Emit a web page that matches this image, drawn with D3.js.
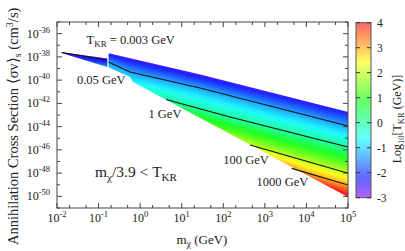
<!DOCTYPE html>
<html>
<head>
<meta charset="utf-8">
<script src="https://cdn.jsdelivr.net/npm/d3@7"></script>
<style>
  body { margin: 0; background: #fff; }
  text { font-family: "Liberation Serif", "Times New Roman", serif; fill: #222; }
</style>
</head>
<body>
<div id="chart"></div>
<script>
//////////////////////////////////////////////////////////////
////////////////////////// Data //////////////////////////////
//////////////////////////////////////////////////////////////

// all points are [log10 m (GeV), log10 sigma (cm^3/s), log10 T_KR]
var piece1Top    = [[-1.887, -37.60, -2.5], [-0.790, -38.14, -2.7]];
var piece1Bottom = [[-1.887, -37.67, -2.5], [-0.790, -38.87, -1.4]];

var piece2Top    = [[-0.761, -37.69, -2.4], [1.44, -39.52, -2.45], [5.0, -42.74, -2.3]];
var piece2Bottom = [[-0.761, -38.87, -1.15], [-0.725, -38.96, -1.1], [-0.244, -39.73, -0.85],
                    [-0.172, -40.16, -0.75], [5.0, -50.05, 4.4]];

// contour lines [log m, log sigma]
var contour003  = [[-1.887, -37.63], [-0.797, -38.27]];
var contour005  = [[-0.761, -38.44], [-0.244, -39.30], [1.44, -40.68], [5.0, -43.95]];
var contour1    = [[0.622, -41.67], [2.162, -43.17], [5.0, -45.75]];
var contour100  = [[2.643, -45.58], [4.88, -47.88], [5.0, -47.99]];
var contour1000 = [[3.646, -47.59], [5.0, -49.02]];
var contourValues = [-2.52, -1.3, 0, 2, 3];

var xTicks = [-2, -1, 0, 1, 2, 3, 4, 5];
var yTicks = [-50, -48, -46, -44, -42, -40, -38, -36];
var cbTicks = [-3, -2, -1, 0, 1, 2, 3, 4];

var labels = [
  {x: -1.29, y: -36.9, main: "T", sub: "KR", rest: " = 0.003 GeV"},
  {x: -1.52, y: -40.3, main: "0.05 GeV"},
  {x: 0.2, y: -43.3, main: "1 GeV"},
  {x: 2.0, y: -47.2, main: "100 GeV"},
  {x: 2.8, y: -49.1, main: "1000 GeV"}
];

//////////////////////////////////////////////////////////////
/////////////////////// Set up svg ///////////////////////////
//////////////////////////////////////////////////////////////

var width = 405, height = 251;
var svg = d3.select("#chart").append("svg")
    .attr("width", width)
    .attr("height", height);
var defs = svg.append("defs");

var x = d3.scaleLinear().domain([-2, 5]).range([57, 348]);
var y = d3.scaleLinear().domain([-35, -51]).range([22, 208]);

//log10 T -> colour (rainbow from violet to red)
var colorOf = function(v) {
  v = Math.max(-3, Math.min(4, v));
  return d3.hsl(270 * (4 - v) / 7, 1, 0.55).formatHex();
};

// value of a polyline at pixel px (linear in pixels)
function at(poly, px) {
  var pts = poly.map(function(p) { return [x(p[0]), y(p[1]), p[2]]; });
  if (px < pts[0][0] - 0.6 || px > pts[pts.length-1][0] + 0.6) return null;
  for (var i = 0; i < pts.length - 1; i++) {
    if (px <= pts[i+1][0] || i == pts.length - 2) {
      var t = (px - pts[i][0]) / (pts[i+1][0] - pts[i][0]);
      t = Math.max(0, Math.min(1, t));
      return [pts[i][1] + t * (pts[i+1][1] - pts[i][1]),
              pts[i][2] + t * (pts[i+1][2] - pts[i][2])];
    }
  }
}

//////////////////////////////////////////////////////////////
////////////////////// Colour field //////////////////////////
//////////////////////////////////////////////////////////////

var contours = [contour003, contour005, contour1, contour100, contour1000];
var pieces = [[piece1Top, piece1Bottom], [piece2Top, piece2Bottom]];

var field = svg.append("g");
var gid = 0;
pieces.forEach(function(pc, k) {
  var top = pc[0], bot = pc[1];
  var poly = top.concat(bot.slice().reverse()).map(function(p) { return [x(p[0]), y(p[1])]; });
  defs.append("clipPath").attr("id", "clip" + k)
    .append("polygon").attr("points", poly.join(" "));
  var g = field.append("g").attr("clip-path", "url(#clip" + k + ")");
  var x0 = x(top[0][0]), x1 = x(top[top.length-1][0]);
  for (var px = x0; px < x1; px += 2) {
    var cx = Math.min(px + 1, x1);
    var t = at(top, cx), b = at(bot, cx);
    var stops = [[t[0], t[1]]];
    contours.forEach(function(c, j) {
      var r = at(c, cx);
      if (r && r[0] > t[0] && r[0] < b[0]) stops.push([r[0], contourValues[j]]);
    });
    stops.push([b[0], b[1]]);
    stops.sort(function(a, b2) { return a[0] - b2[0]; });
    var fine = [];
    for (var i = 0; i < stops.length - 1; i++) {
      for (var s = 0; s < 5; s++) {
        var f = s / 5;
        fine.push([stops[i][0] + f * (stops[i+1][0] - stops[i][0]),
                   stops[i][1] + f * (stops[i+1][1] - stops[i][1])]);
      }
    }
    fine.push(stops[stops.length-1]);
    var id = "col" + (gid++);
    defs.append("linearGradient").attr("id", id)
      .attr("gradientUnits", "userSpaceOnUse")
      .attr("x1", 0).attr("x2", 0).attr("y1", t[0]).attr("y2", b[0])
      .selectAll("stop").data(fine).enter().append("stop")
      .attr("offset", function(d) { return (b[0] - t[0]) > 0 ? (d[0] - t[0]) / (b[0] - t[0]) : 0; })
      .attr("stop-color", function(d) { return colorOf(d[1]); });
    g.append("rect")
      .attr("x", px - 0.3).attr("width", 2.6)
      .attr("y", t[0] - 2).attr("height", b[0] - t[0] + 4)
      .style("fill", "url(#" + id + ")");
  }
});

//contour lines
var line = d3.line().x(function(d) { return x(d[0]); }).y(function(d) { return y(d[1]); });
svg.append("g").selectAll("path").data(contours).enter().append("path")
  .attr("d", line)
  .style("fill", "none").style("stroke", "#111").style("stroke-width", 1.1);

//////////////////////////////////////////////////////////////
////////////////////////// Axes //////////////////////////////
//////////////////////////////////////////////////////////////

var frame = svg.append("g").style("stroke", "#444").style("stroke-width", 1);
frame.append("rect").attr("x", 57).attr("y", 22).attr("width", 291).attr("height", 186)
  .style("fill", "none");

//x ticks, major and minor
var xMinor = [];
xTicks.forEach(function(t) {
  if (t < 5) [2, 5].forEach(function(m) { xMinor.push(t + Math.log10(m)); });
});
xTicks.forEach(function(t) {
  frame.append("line").attr("x1", x(t)).attr("x2", x(t)).attr("y1", 208).attr("y2", 203);
  frame.append("line").attr("x1", x(t)).attr("x2", x(t)).attr("y1", 22).attr("y2", 27);
});
xMinor.forEach(function(t) {
  frame.append("line").attr("x1", x(t)).attr("x2", x(t)).attr("y1", 208).attr("y2", 205);
  frame.append("line").attr("x1", x(t)).attr("x2", x(t)).attr("y1", 22).attr("y2", 25);
});
d3.range(-51, -34).forEach(function(t) {
  var len = (t % 2 == 0) ? 5 : 3;
  frame.append("line").attr("x1", 57).attr("x2", 57 + len).attr("y1", y(t)).attr("y2", y(t));
  frame.append("line").attr("x1", 348).attr("x2", 348 - len).attr("y1", y(t)).attr("y2", y(t));
});

var xl = svg.append("g").selectAll("text").data(xTicks).enter().append("text")
  .attr("x", function(d) { return x(d); }).attr("y", 222)
  .attr("text-anchor", "middle").style("font-size", "12px");
xl.append("tspan").text("10");
xl.append("tspan").attr("dy", -5).style("font-size", "8.5px").text(function(d) { return d; });

var yl = svg.append("g").selectAll("text").data(yTicks).enter().append("text")
  .attr("x", 50).attr("y", function(d) { return y(d) + 4; })
  .attr("text-anchor", "end").style("font-size", "12px");
yl.append("tspan").text("10");
yl.append("tspan").attr("dy", -5).style("font-size", "8.5px").text(function(d) { return d; });

//axis titles
var xt = svg.append("text").attr("x", 202).attr("y", 244).attr("text-anchor", "middle")
  .style("font-size", "13px");
xt.append("tspan").text("m");
xt.append("tspan").attr("dy", 3).style("font-size", "9.5px").text("χ");
xt.append("tspan").attr("dy", -3).text(" (GeV)");

var yt = svg.append("text").attr("transform", "translate(18,245) rotate(-90)")
  .style("font-size", "14.5px");
yt.append("tspan").text("Annihilation Cross Section ⟨σv⟩");
yt.append("tspan").attr("dy", 3).style("font-size", "10px").text("s");
yt.append("tspan").attr("dy", -3).text(" (cm");
yt.append("tspan").attr("dy", -5).style("font-size", "10px").text("3");
yt.append("tspan").attr("dy", 5).text("/s)");

//in-plot labels
labels.forEach(function(l) {
  var t = svg.append("text").attr("x", x(l.x)).attr("y", y(l.y)).style("font-size", "12.5px");
  t.append("tspan").text(l.main);
  if (l.sub) {
    t.append("tspan").attr("dy", 3).style("font-size", "9px").text(l.sub);
    t.append("tspan").attr("dy", -3).text(l.rest);
  }
});
var cond = svg.append("text").attr("x", 95).attr("y", 177).style("font-size", "15.5px");
cond.append("tspan").text("m");
cond.append("tspan").attr("dy", 4).style("font-size", "11px").text("χ");
cond.append("tspan").attr("dy", -4).text("/3.9 < T");
cond.append("tspan").attr("dy", 4).style("font-size", "11px").text("KR");

//////////////////////////////////////////////////////////////
//////////////////////// Colour bar //////////////////////////
//////////////////////////////////////////////////////////////

var cb = d3.scaleLinear().domain([-3, 4]).range([197.7, 22.7]);
var cbStops = d3.range(0, 36).map(function(i) { return -3 + i * 0.2; });
defs.append("linearGradient").attr("id", "cbGrad")
  .attr("x1", "0%").attr("y1", "100%").attr("x2", "0%").attr("y2", "0%")
  .selectAll("stop").data(cbStops).enter().append("stop")
  .attr("offset", function(d) { return (d + 3) / 7; })
  .attr("stop-color", function(d) { return colorOf(d); });
svg.append("rect").attr("x", 356).attr("y", 22.7).attr("width", 15).attr("height", 175)
  .style("fill", "url(#cbGrad)").style("fill-opacity", 0.68);
svg.append("rect").attr("x", 356).attr("y", 22.7).attr("width", 15).attr("height", 175)
  .style("fill", "none").style("stroke", "#555");
cbTicks.forEach(function(t) {
  svg.append("line").attr("x1", 356).attr("x2", 360).attr("y1", cb(t)).attr("y2", cb(t))
    .style("stroke", "#333");
  svg.append("line").attr("x1", 367).attr("x2", 371).attr("y1", cb(t)).attr("y2", cb(t))
    .style("stroke", "#333");
  svg.append("text").attr("x", 377).attr("y", cb(t) + 4).style("font-size", "11.5px").text(t);
});
var cbt = svg.append("text").attr("transform", "translate(401,119) rotate(-90)")
  .attr("text-anchor", "middle").style("font-size", "12px");
cbt.append("tspan").text("Log");
cbt.append("tspan").attr("dy", 3).style("font-size", "8.5px").text("10");
cbt.append("tspan").attr("dy", -3).text("[T");
cbt.append("tspan").attr("dy", 3).style("font-size", "8.5px").text("KR");
cbt.append("tspan").attr("dy", -3).text(" (GeV)]");
</script>
</body>
</html>
